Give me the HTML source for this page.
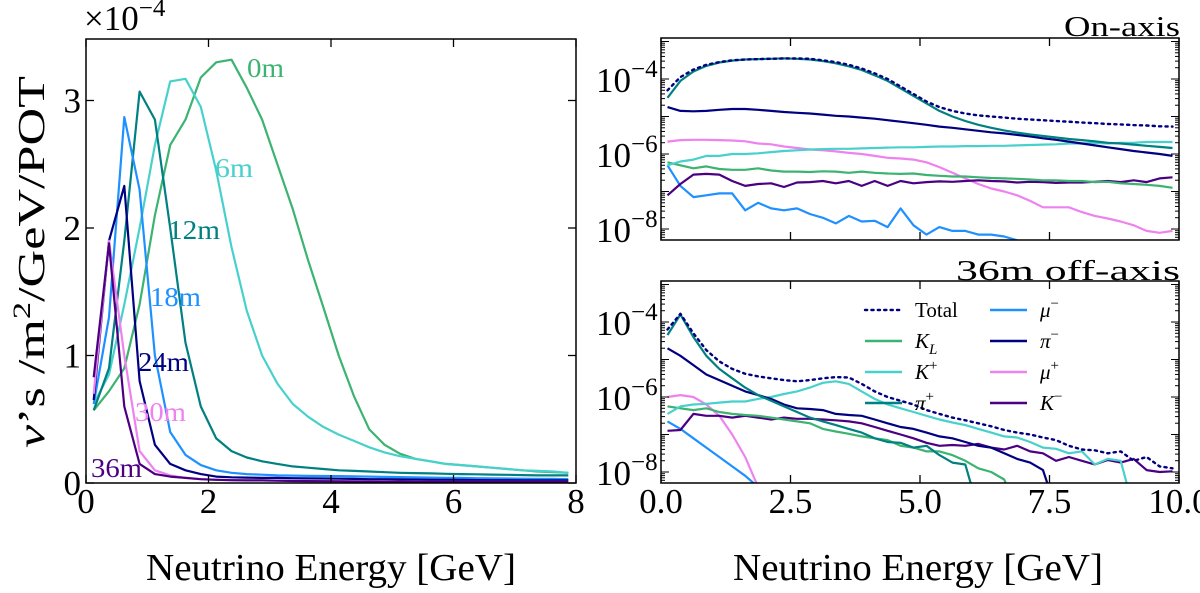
<!DOCTYPE html>
<html><head><meta charset="utf-8"><style>
html,body{margin:0;padding:0;background:#fff;}
svg{display:block;font-family:"Liberation Serif","DejaVu Serif",serif;}
</style></head><body>
<svg id="fig" width="1200" height="593" viewBox="0 0 1200 593" xmlns="http://www.w3.org/2000/svg"></svg>
<script>
// ---------- Left panel data (x10^-4) ----------
const leftX = [0.125,0.375,0.625,0.875,1.125,1.375,1.625,1.875,2.125,2.375,2.625,2.875,3.125,3.375,3.625,3.875,4.125,4.375,4.625,4.875,5.125,5.375,5.625,5.875,6.125,6.375,6.625,6.875,7.125,7.375,7.625,7.875];
const off0m  = [0.57,0.72,0.9,1.4,2.1,2.65,2.85,3.18,3.30,3.32,3.1,2.85,2.5,2.15,1.75,1.38,1.0,0.68,0.42,0.3,0.23,0.19,0.17,0.15,0.14,0.13,0.12,0.11,0.1,0.09,0.085,0.08];
const off6m  = [0.62,0.85,1.4,2.0,2.65,3.15,3.17,2.95,2.45,1.85,1.35,1.0,0.78,0.62,0.52,0.44,0.38,0.33,0.28,0.24,0.21,0.19,0.17,0.15,0.14,0.13,0.12,0.11,0.1,0.095,0.09,0.08];
const off12m = [0.57,0.9,1.9,3.07,2.85,2.0,1.1,0.6,0.35,0.25,0.2,0.17,0.15,0.13,0.12,0.11,0.1,0.095,0.09,0.085,0.08,0.078,0.075,0.072,0.07,0.068,0.066,0.064,0.062,0.06,0.06,0.06];
const off18m = [0.62,1.3,2.87,2.3,1.0,0.4,0.22,0.14,0.1,0.08,0.07,0.065,0.06,0.058,0.056,0.055,0.054,0.052,0.05,0.048,0.046,0.044,0.042,0.04,0.04,0.038,0.036,0.035,0.034,0.033,0.032,0.03];
const off24m = [0.65,1.9,2.33,0.8,0.3,0.15,0.1,0.07,0.05,0.045,0.042,0.04,0.04,0.038,0.036,0.035,0.034,0.032,0.03,0.03,0.028,0.027,0.026,0.025,0.024,0.023,0.022,0.022,0.021,0.02,0.02,0.02];
const off30m = [0.7,1.9,1.0,0.25,0.1,0.06,0.04,0.03,0.025,0.022,0.02,0.02,0.018,0.017,0.016,0.015,0.015,0.014,0.013,0.013,0.012,0.012,0.011,0.011,0.01,0.01,0.01,0.01,0.01,0.01,0.01,0.01];
const off36m = [0.83,1.88,0.6,0.15,0.07,0.05,0.04,0.03,0.025,0.022,0.02,0.02,0.018,0.016,0.015,0.014,0.013,0.012,0.012,0.011,0.011,0.01,0.01,0.01,0.01,0.01,0.01,0.01,0.01,0.01,0.01,0.01];
const leftNames = ["0m","6m","12m","18m","24m","30m","36m"];
const leftTicksX = [0,2,4,6,8];
const leftTicksY = [0,1,2,3];

// ---------- Right panels data (log10 flux) ----------
const rightX = Array.from({length:40},(_,i)=>0.125+0.25*i);
const onTotal = [-4.3,-3.95,-3.75,-3.62,-3.55,-3.5,-3.48,-3.47,-3.46,-3.45,-3.45,-3.46,-3.5,-3.55,-3.62,-3.72,-3.85,-4.0,-4.2,-4.4,-4.6,-4.75,-4.85,-4.92,-4.97,-5.0,-5.03,-5.06,-5.08,-5.1,-5.12,-5.14,-5.16,-5.18,-5.2,-5.21,-5.23,-5.24,-5.26,-5.27];
const onPip = [-4.5,-4.05,-3.8,-3.65,-3.56,-3.51,-3.48,-3.47,-3.46,-3.45,-3.46,-3.48,-3.52,-3.58,-3.66,-3.76,-3.9,-4.05,-4.25,-4.45,-4.65,-4.85,-5.0,-5.12,-5.22,-5.3,-5.37,-5.43,-5.48,-5.52,-5.56,-5.6,-5.63,-5.66,-5.7,-5.72,-5.75,-5.78,-5.81,-5.84];
const onPim = [-4.75,-4.85,-4.86,-4.85,-4.82,-4.8,-4.8,-4.82,-4.85,-4.88,-4.9,-4.92,-4.95,-4.98,-5.0,-5.03,-5.06,-5.1,-5.14,-5.18,-5.22,-5.27,-5.3,-5.34,-5.38,-5.42,-5.45,-5.49,-5.53,-5.58,-5.62,-5.67,-5.72,-5.77,-5.82,-5.87,-5.92,-5.96,-6.0,-6.05];
const onMup = [-5.67,-5.63,-5.62,-5.62,-5.63,-5.64,-5.66,-5.72,-5.74,-5.8,-5.84,-5.88,-5.9,-5.93,-5.97,-6.0,-6.05,-6.1,-6.12,-6.15,-6.22,-6.35,-6.5,-6.65,-6.8,-6.92,-7.0,-7.1,-7.25,-7.42,-7.42,-7.42,-7.55,-7.65,-7.72,-7.8,-7.9,-8.05,-8.1,-8.05];
const onKp = [-6.3,-6.2,-6.15,-6.05,-6.05,-6.0,-6.0,-5.98,-5.95,-5.92,-5.9,-5.88,-5.87,-5.86,-5.86,-5.85,-5.84,-5.83,-5.82,-5.82,-5.81,-5.8,-5.8,-5.79,-5.79,-5.78,-5.78,-5.77,-5.76,-5.75,-5.74,-5.72,-5.72,-5.7,-5.72,-5.7,-5.7,-5.68,-5.68,-5.68];
const onKL = [-6.22,-6.3,-6.38,-6.33,-6.4,-6.42,-6.42,-6.38,-6.44,-6.47,-6.47,-6.48,-6.46,-6.47,-6.5,-6.47,-6.5,-6.52,-6.53,-6.52,-6.56,-6.58,-6.6,-6.6,-6.62,-6.64,-6.65,-6.66,-6.68,-6.7,-6.7,-6.72,-6.72,-6.75,-6.74,-6.78,-6.8,-6.82,-6.85,-6.9];
const onKm = [-7.1,-6.8,-6.55,-6.53,-6.55,-6.72,-6.85,-6.8,-6.78,-6.88,-6.76,-6.75,-6.72,-6.78,-6.72,-6.85,-6.72,-6.85,-6.72,-6.78,-6.75,-6.73,-6.74,-6.72,-6.7,-6.72,-6.73,-6.76,-6.74,-6.75,-6.77,-6.76,-6.76,-6.74,-6.72,-6.75,-6.7,-6.75,-6.65,-6.62];
const onMum = [-6.3,-6.85,-7.15,-7.1,-7.05,-7.05,-7.5,-7.3,-7.45,-7.5,-7.45,-7.6,-7.7,-7.85,-7.65,-7.8,-7.78,-7.95,-7.45,-7.9,-8.15,-7.95,-8.05,-8.05,-8.15,-8.15,-8.2,-8.3,-8.5,-8.7,-9,-9,-9,-9,-9,-9,-9,-9,-9,-9];

const offTotal = [-4.2,-3.78,-4.3,-4.75,-5.05,-5.25,-5.38,-5.45,-5.5,-5.55,-5.58,-5.55,-5.5,-5.47,-5.48,-5.65,-5.85,-6.0,-6.1,-6.2,-6.35,-6.45,-6.55,-6.62,-6.7,-6.78,-6.88,-6.95,-7.0,-7.08,-7.15,-7.3,-7.4,-7.42,-7.5,-7.45,-7.7,-7.6,-7.85,-7.9];
const offPip = [-4.35,-3.8,-4.4,-4.9,-5.25,-5.5,-5.75,-5.95,-6.1,-6.25,-6.4,-6.55,-6.65,-6.75,-6.85,-6.95,-7.1,-7.2,-7.22,-7.35,-7.3,-7.55,-7.75,-7.8,-9,-9,-9,-9,-9,-9,-9,-9,-9,-9,-9,-9,-9,-9,-9,-9];
const offKp = [-6.45,-6.25,-6.2,-6.18,-6.15,-6.12,-6.12,-6.05,-6.0,-5.92,-5.85,-5.75,-5.62,-5.58,-5.65,-5.85,-6.05,-6.2,-6.3,-6.4,-6.5,-6.6,-6.68,-6.75,-6.85,-6.95,-7.05,-7.08,-7.2,-7.35,-7.38,-7.5,-7.45,-7.8,-7.65,-7.7,-9,-9,-9,-9];
const offPim = [-4.7,-4.9,-5.15,-5.4,-5.55,-5.7,-5.85,-5.95,-6.05,-6.2,-6.3,-6.32,-6.35,-6.45,-6.48,-6.5,-6.6,-6.7,-6.8,-6.85,-6.95,-7.05,-7.1,-7.2,-7.3,-7.35,-7.5,-7.65,-7.75,-7.95,-9,-9,-9,-9,-9,-9,-9,-9,-9,-9];
const offKm = [-6.9,-6.88,-6.45,-6.5,-6.5,-6.55,-6.5,-6.55,-6.6,-6.55,-6.58,-6.58,-6.6,-6.62,-6.65,-6.7,-6.8,-6.9,-7.0,-7.1,-7.22,-7.3,-7.28,-7.3,-7.25,-7.35,-7.4,-7.3,-7.45,-7.5,-7.7,-7.6,-7.7,-7.8,-7.68,-7.75,-7.65,-7.95,-8.0,-7.98];
const offKL = [-6.25,-6.3,-6.35,-6.3,-6.4,-6.45,-6.48,-6.5,-6.55,-6.6,-6.65,-6.7,-6.85,-6.92,-6.98,-7.05,-7.1,-7.15,-7.3,-7.35,-7.45,-7.45,-7.55,-7.7,-7.9,-8.0,-8.2,-9,-9,-9,-9,-9,-9,-9,-9,-9,-9,-9,-9,-9];
const offMup = [-6.0,-5.95,-6.0,-6.2,-6.5,-7.0,-7.6,-8.4,-9,-9,-9,-9,-9,-9,-9,-9,-9,-9,-9,-9,-9,-9,-9,-9,-9,-9,-9,-9,-9,-9,-9,-9,-9,-9,-9,-9,-9,-9,-9,-9];
const offMum = [-6.65,-6.85,-7.1,-7.35,-7.6,-7.85,-8.1,-8.4,-9,-9,-9,-9,-9,-9,-9,-9,-9,-9,-9,-9,-9,-9,-9,-9,-9,-9,-9,-9,-9,-9,-9,-9,-9,-9,-9,-9,-9,-9,-9,-9];
const rightTicksX = [0,2.5,5,7.5,10];
const rightTickLabelsX = ["0.0","2.5","5.0","7.5","10.0"];
const rightTicksY = [-4,-6,-8];

const C = {g:"#3cb371", t:"#48d1cc", tl:"#008080", b:"#1e90ff", n:"#000080", v:"#ee82ee", i:"#4b0082"};
const NS = "http://www.w3.org/2000/svg";
const svg = document.getElementById('fig');
function el(tag, attrs, parent, txt){
  const e = document.createElementNS(NS, tag);
  for (const k in attrs) e.setAttribute(k, attrs[k]);
  if (txt !== undefined) e.textContent = txt;
  (parent||svg).appendChild(e);
  return e;
}

const L = {x0:86, x1:576, y0:483, y1:39};
const lx = v => L.x0 + (v/8)*(L.x1-L.x0);
const ly = v => L.y0 - v*127.5;
const R = {x0:661, x1:1179};
const rx = v => R.x0 + (v/10)*(R.x1-R.x0);
const ryTop = v => 79 + (-4 - v)*37.5;
const ryBot = v => 322 + (-4 - v)*37.5;

const defs = el('defs',{});
const cp1 = el('clipPath',{id:'cL'},defs); el('rect',{x:L.x0,y:L.y1,width:L.x1-L.x0,height:L.y0-L.y1},cp1);
const cp2 = el('clipPath',{id:'cT'},defs); el('rect',{x:R.x0,y:38,width:R.x1-R.x0,height:202},cp2);
const cp3 = el('clipPath',{id:'cB'},defs); el('rect',{x:R.x0,y:281,width:R.x1-R.x0,height:202},cp3);

function line(xs, ys, fx, fy, color, clip, name, dotted){
  const d = xs.map((x,i)=>(i?'L':'M')+fx(x).toFixed(1)+','+fy(ys[i]).toFixed(1)).join('');
  const p = el('path',{d:d, fill:'none', stroke:color, 'stroke-width':2.2, 'clip-path':'url(#'+clip+')', 'stroke-linejoin':'round'});
  if (dotted) { p.setAttribute('stroke-dasharray','2.2,4.2'); p.setAttribute('stroke-linecap','round'); p.setAttribute('stroke-width','2.4'); }
  
  
  return p;
}

// ---- Left panel ----
const leftSeries = [off0m,off6m,off12m,off18m,off24m,off30m,off36m];
const leftColors = [C.g,C.t,C.tl,C.b,C.n,C.v,C.i];
leftSeries.forEach((s,k)=>line(leftX, s, lx, ly, leftColors[k], 'cL', 'curve-'+leftNames[k], false));
const leftLabelPos = [[247,77],[215,177],[168,239],[150,306],[138,371],[135,421],[91,477]];
const leftLabelW = [37,38,52,51,51,51,51];
leftNames.forEach((n,k)=>{
  const t = el('text',{x:leftLabelPos[k][0], y:leftLabelPos[k][1], fill:leftColors[k], 'font-size':27, textLength:leftLabelW[k], lengthAdjust:'spacingAndGlyphs'}, svg, n);
  
  
});
const lframe = el('rect',{x:L.x0,y:L.y1,width:L.x1-L.x0,height:L.y0-L.y1,fill:'none',stroke:'#000','stroke-width':1.5});
 
leftTicksX.forEach(v=>{
  const x=lx(v);
  el('line',{x1:x,y1:L.y0,x2:x,y2:L.y0-8,stroke:'#000','stroke-width':1.3});
  el('line',{x1:x,y1:L.y1,x2:x,y2:L.y1+8,stroke:'#000','stroke-width':1.3});
  const t = el('text',{x:x,y:513,'text-anchor':'middle','font-size':35},svg,String(v));
   
});
leftTicksY.forEach(v=>{
  const y=ly(v);
  el('line',{x1:L.x0,y1:y,x2:L.x0+8,y2:y,stroke:'#000','stroke-width':1.3});
  el('line',{x1:L.x1,y1:y,x2:L.x1-8,y2:y,stroke:'#000','stroke-width':1.3});
  const t = el('text',{x:81,y:y+12,'text-anchor':'end','font-size':35},svg,String(v));
   
});
const mult = el('text',{x:84,y:30,'font-size':35},svg);
 
el('tspan',{},mult,'×10');
el('tspan',{dy:-14,'font-size':25},mult,'−4');

const ylab = el('text',{transform:'translate(44,262) rotate(-90)','text-anchor':'middle','font-size':38,textLength:372,lengthAdjust:'spacingAndGlyphs'},svg);
 
el('tspan',{'font-style':'italic'},ylab,'ν');
el('tspan',{},ylab,'’s /m');
el('tspan',{dy:-14,'font-size':25},ylab,'2');
el('tspan',{dy:14},ylab,'/GeV/POT');

const xl1 = el('text',{x:331,y:580,'text-anchor':'middle','font-size':38,textLength:370,lengthAdjust:'spacingAndGlyphs'},svg,'Neutrino Energy [GeV]');
 
const xl2 = el('text',{x:918,y:580,'text-anchor':'middle','font-size':38,textLength:370,lengthAdjust:'spacingAndGlyphs'},svg,'Neutrino Energy [GeV]');
 

// ---- Right panels ----
const names = ['total','K_L','K+','pi+','mu-','pi-','mu+','K-'];
const colorsR = [C.n,C.g,C.t,C.tl,C.b,C.n,C.v,C.i];
const onSeries = [onTotal,onKL,onKp,onPip,onMum,onPim,onMup,onKm];
const offSeries = [offTotal,offKL,offKp,offPip,offMum,offPim,offMup,offKm];
const drawOrder = [4,6,7,1,2,5,3,0];
drawOrder.forEach(k=>line(rightX,onSeries[k],rx,ryTop,colorsR[k],'cT','on-axis-'+names[k],k===0));
drawOrder.forEach(k=>line(rightX,offSeries[k],rx,ryBot,colorsR[k],'cB','off-axis-'+names[k],k===0));

function rightFrame(top, fy, name, showX){
  const f = el('rect',{x:R.x0,y:top,width:R.x1-R.x0,height:202,fill:'none',stroke:'#000','stroke-width':1.5});
   
  rightTicksX.forEach((v,i)=>{
    const x=rx(v);
    el('line',{x1:x,y1:top+202,x2:x,y2:top+194,stroke:'#000','stroke-width':1.3});
    el('line',{x1:x,y1:top,x2:x,y2:top+8,stroke:'#000','stroke-width':1.3});
    if (showX){
      const t = el('text',{x:x,y:513,'text-anchor':'middle','font-size':35},svg,rightTickLabelsX[i]);
       
    }
  });
  for (let d=-9; d<=-3; d++){
    for (let m=1; m<10; m++){
      const v = d + Math.log10(m);
      const y = fy(v);
      if (y < top || y > top+202) continue;
      const len = m===1 ? 8 : 4;
      el('line',{x1:R.x0,y1:y,x2:R.x0+len,y2:y,stroke:'#000','stroke-width':1});
      el('line',{x1:R.x1,y1:y,x2:R.x1-len,y2:y,stroke:'#000','stroke-width':1});
    }
  }
  rightTicksY.forEach(v=>{
    const y=fy(v);
    const t = el('text',{x:596,y:y+13,'font-size':35},svg);
     
    el('tspan',{},t,'10');
    el('tspan',{dy:-15,'font-size':25},t,'−'+(-v));
  });
}
rightFrame(38, ryTop, 'on-axis', false);
rightFrame(281, ryBot, 'off-axis', true);
const t1 = el('text',{x:1180,y:36,'text-anchor':'end','font-size':29,textLength:116,lengthAdjust:'spacingAndGlyphs'},svg,'On-axis');
 
const t2 = el('text',{x:1180,y:280,'text-anchor':'end','font-size':29,textLength:224,lengthAdjust:'spacingAndGlyphs'},svg,'36m off-axis');
 

// Legend
const legend = el('g',{});
 
const legLabels = [['Total',''],['K','L'],['K','+'],['π','+'],['μ','−'],['π','−'],['μ','+'],['K','−']];
const rowsY = [310,341,372,403];
legLabels.forEach((lab,k)=>{
  const col = k<4?0:1, row=k%4;
  const x0 = col? 990 : 865, y = rowsY[row];
  const ln = el('line',{x1:x0,y1:y,x2:x0+37,y2:y,stroke:colorsR[k],'stroke-width':2.4},legend);
  if (k===0){ ln.setAttribute('stroke-dasharray','2.2,4.2'); ln.setAttribute('stroke-linecap','round'); }
   
  const t = el('text',{x:x0+50,y:y+7,'font-size':21},legend);
   
  if (k===0){ t.textContent='Total'; }
  else {
    el('tspan',{'font-style':'italic'},t,lab[0]);
    if (lab[1]==='L') el('tspan',{dy:6,'font-size':15,'font-style':'italic'},t,'L');
    else el('tspan',{dy:-9,'font-size':15},t,lab[1]);
  }
});
</script>
</body></html>
